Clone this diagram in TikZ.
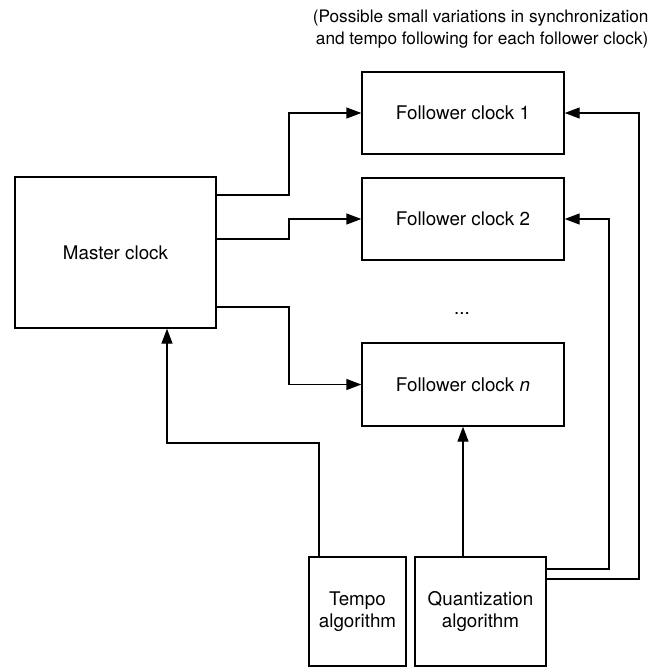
\documentclass[tikz,border=0pt]{standalone}
\usepackage{fontspec}
\setmainfont{TeX Gyre Heros}
\usetikzlibrary{arrows.meta}

\begin{document}
\begin{tikzpicture}[x=1pt, y=-1pt,
	box/.style={draw=black, line width=1.4pt, fill=white, align=center, inner sep=0pt, font=\fontsize{18.8}{22}\selectfont},
	link/.style={line width=1.4pt, -{Triangle[length=15pt, width=11pt]}}]
	\useasboundingbox (0,0) rectangle (659,670);

	\node[anchor=east, align=right, font=\fontsize{17.2}{22}\selectfont] (note) at (652,29) {(Possible small variations in synchronization\\and tempo following for each follower clock)};

	\node[box, minimum width=201pt, minimum height=151pt] (master) at (115.5,252.5) {Master clock};

	\node[box, minimum width=202pt, minimum height=82pt] (follow1) at (463,113) {Follower clock 1};
	\node[box, minimum width=202pt, minimum height=82pt] (follow2) at (463,219) {Follower clock 2};
	\node[font=\fontsize{18.8}{22}\selectfont] (dots) at (462,314) {...};
	\node[box, minimum width=202pt, minimum height=83pt] (follown) at (463,384.5) {Follower clock \textit{n}};

	\node[box, minimum width=97pt, minimum height=109pt] (tempo) at (357.5,611.5) {Tempo\\algorithm};
	\node[box, minimum width=131pt, minimum height=109pt] (quant) at (480.5,611.5) {Quantization\\algorithm};

	% master to followers
	\draw[link] (master.east |- {(0,195)}) -- (289,195) |- (follow1.west);
	\draw[link] (master.east |- {(0,239)}) -- (289,239) |- (follow2.west);
	\draw[link] (master.east |- {(0,307)}) -- (289,307) |- (follown.west);

	% algorithms
	\draw[link] (tempo.north -| {(319,0)}) |- (167,443) -- (master.south -| {(167,0)});
	\draw[link] (quant.north -| follown.south) -- (follown.south);
	\draw[link] (quant.east |- {(0,569)}) -| (609,219) -- (follow2.east);
	\draw[link] (quant.east |- {(0,579)}) -| (639,113) -- (follow1.east);
\end{tikzpicture}
\end{document}
